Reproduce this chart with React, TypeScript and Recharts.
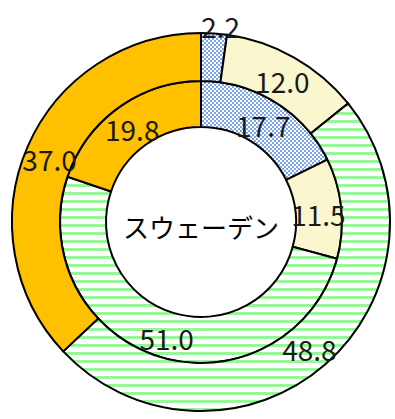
import { PieChart, Pie, Cell } from "recharts";

// outer ring, clockwise from 12 o'clock
const outerNames = ["blue", "yellow", "green", "orange"];
const outerValues = [2.2, 12.0, 48.8, 37.0];
// inner ring
const innerNames = ["blue", "yellow", "green", "orange"];
const innerValues = [17.7, 11.5, 51.0, 19.8];
const centerLabel = "スウェーデン";

const fills: Record<string, string> = {
  blue: "url(#checkBlue)",
  yellow: "#FAF7CF",
  green: "url(#stripeGreen)",
  orange: "#FFC000",
};

const outerData = outerNames.map((n, i) => ({ name: n, value: outerValues[i] }));
const innerData = innerNames.map((n, i) => ({ name: n, value: innerValues[i] }));

const RAD = Math.PI / 180;
const FONT = '"Noto Sans CJK JP", "Noto Sans", sans-serif';

const renderLabel = (outside: number) => (props: any) => {
  const { cx, cy, midAngle, innerRadius, outerRadius, value, index } = props;
  let r = (innerRadius + outerRadius) / 2;
  let dx = 0;
  // tiny slice label sits outside the ring
  if (index === outside) {
    r = outerRadius + 10;
    dx = 6;
  }
  const x = cx + r * Math.cos(-midAngle * RAD) + dx;
  const y = cy + r * Math.sin(-midAngle * RAD) + 3;
  return (
    <text
      x={x}
      y={y}
      fill="#1a1a1a"
      fontSize={28}
      fontFamily={FONT}
      textAnchor="middle"
      dominantBaseline="central"
    >
      {value.toFixed(1)}
    </text>
  );
};

export default function App() {
  return (
    <div style={{ position: "absolute", left: 0, top: 0, width: 395, height: 419 }}>
      <svg width={0} height={0} style={{ position: "absolute" }}>
        <defs>
          <pattern id="checkBlue" width={4} height={4} patternUnits="userSpaceOnUse">
            <rect width={4} height={4} fill="#7BA5F2" />
            <rect x={0} y={0} width={2} height={2} fill="#ffffff" />
            <rect x={2} y={2} width={2} height={2} fill="#ffffff" />
          </pattern>
          <pattern id="stripeGreen" width={8} height={8} patternUnits="userSpaceOnUse">
            <rect width={8} height={8} fill="#ffffff" />
            <rect x={0} y={0} width={8} height={3} fill="#99F599" />
          </pattern>
        </defs>
      </svg>
      <PieChart width={395} height={419} margin={{ top: 0, right: 0, bottom: 0, left: 0 }}>
        <Pie
          data={innerData}
          dataKey="value"
          cx={201}
          cy={222}
          innerRadius={95}
          outerRadius={141}
          startAngle={90}
          endAngle={-270}
          stroke="#000"
          strokeWidth={2}
          label={renderLabel(-1)}
          labelLine={false}
          isAnimationActive={false}
        >
          {innerData.map((d) => (
            <Cell key={d.name} fill={fills[d.name]} />
          ))}
        </Pie>
        <Pie
          data={outerData}
          dataKey="value"
          cx={201}
          cy={222}
          innerRadius={141}
          outerRadius={189}
          startAngle={90}
          endAngle={-270}
          stroke="#000"
          strokeWidth={2}
          label={renderLabel(0)}
          labelLine={false}
          isAnimationActive={false}
        >
          {outerData.map((d) => (
            <Cell key={d.name} fill={fills[d.name]} />
          ))}
        </Pie>
      </PieChart>
      <div
        style={{
          position: "absolute",
          left: 0,
          width: 402,
          top: 209,
          textAlign: "center",
          fontFamily: FONT,
          fontSize: 26,
          lineHeight: "36px",
          color: "#000",
        }}
      >
        {centerLabel}
      </div>
    </div>
  );
}
